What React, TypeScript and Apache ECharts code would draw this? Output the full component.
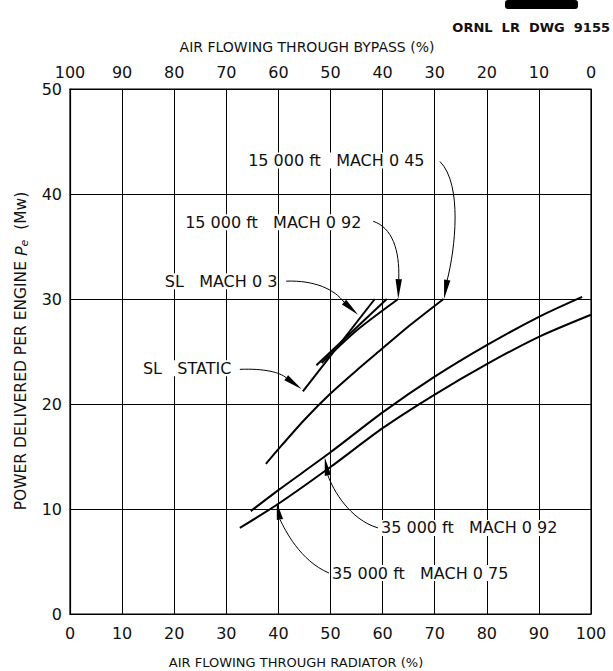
import React, { useEffect, useRef } from "react";
import * as echarts from "echarts";

// 35 000 ft MACH 0.92
const m092Alt35X = [34.7, 40, 50, 60, 70, 80, 90, 98.3];
const m092Alt35Y = [9.8, 11.8, 15.4, 19.2, 22.6, 25.6, 28.3, 30.2];

// 35 000 ft MACH 0.75
const m075Alt35X = [32.6, 40, 50, 60, 70, 80, 90, 100];
const m075Alt35Y = [8.2, 10.5, 14.0, 17.7, 20.9, 23.8, 26.4, 28.5];

// 15 000 ft MACH 0.45
const m045Alt15X = [37.6, 40, 45, 50, 55, 60, 65, 71.7];
const m045Alt15Y = [14.3, 15.7, 18.5, 21.0, 23.2, 25.3, 27.4, 30.0];

// 15 000 ft MACH 0.92
const m092Alt15X = [48.3, 55, 63.0];
const m092Alt15Y = [23.9, 27.0, 30.0];

// SL MACH 0.3
const slM03X = [47.3, 60.8];
const slM03Y = [23.7, 30.0];

// SL STATIC
const slStaticX = [44.7, 58.5];
const slStaticY = [21.2, 30.0];

const FONT = '"DejaVu Sans", "Liberation Sans", sans-serif';

type Ann = {
  label: string;
  at: number[];
  start: number[];
  cp1: number[];
  cp2: number[];
  end: number[];
  tip: number[];
};

const annotations: Ann[] = [
  {
    label: "15 000 ft   MACH 0 45",
    at: [34.2, 43.2],
    start: [71.0, 43.1],
    cp1: [75.4, 40.9],
    cp2: [73.9, 34.7],
    end: [72.4, 31.8],
    tip: [71.8, 30.0],
  },
  {
    label: "15 000 ft   MACH 0 92",
    at: [22.1, 37.3],
    start: [58.2, 37.4],
    cp1: [61.8, 36.8],
    cp2: [63.3, 34.7],
    end: [63.1, 31.9],
    tip: [63.0, 30.0],
  },
  {
    label: "SL   MACH 0 3",
    at: [18.2, 31.7],
    start: [41.5, 31.7],
    cp1: [47.0, 31.8],
    cp2: [50.8, 30.9],
    end: [52.6, 29.7],
    tip: [55.3, 28.5],
  },
  {
    label: "SL   STATIC",
    at: [14.0, 23.4],
    start: [32.6, 23.3],
    cp1: [37.4, 23.4],
    cp2: [40.3, 23.0],
    end: [41.5, 22.5],
    tip: [44.5, 21.4],
  },
  {
    label: "35 000 ft   MACH 0 92",
    at: [59.7, 8.2],
    start: [59.1, 8.2],
    cp1: [53.7, 9.0],
    cp2: [50.5, 11.8],
    end: [49.5, 13.2],
    tip: [48.9, 14.9],
  },
  {
    label: "35 000 ft   MACH 0 75",
    at: [50.3, 3.9],
    start: [49.7, 3.9],
    cp1: [44.1, 5.1],
    cp2: [41.3, 8.0],
    end: [40.3, 9.0],
    tip: [39.7, 10.6],
  },
];

const zip = (xs: number[], ys: number[]) => xs.map((x, i) => [x, ys[i]]);

function lineSeries(name: string, xs: number[], ys: number[], smooth: boolean) {
  return {
    name,
    type: "line",
    xAxisIndex: 0,
    yAxisIndex: 0,
    data: zip(xs, ys),
    showSymbol: false,
    symbol: "none",
    smooth: smooth ? 0.25 : false,
    lineStyle: { color: "#000", width: 2 },
    silent: true,
  };
}

export default function App() {
  const ref = useRef<HTMLDivElement>(null);
  useEffect(() => {
    if (!ref.current) return;
    const chart = echarts.init(ref.current, null, { renderer: "svg" });
    const axisLabel = { color: "#111", fontSize: 16, fontFamily: FONT };
    const option: any = {
      animation: false,
      backgroundColor: "#fff",
      grid: {
        left: 70,
        right: 22,
        top: 89,
        bottom: 57,
        show: true,
        borderColor: "#000",
        borderWidth: 1.2,
      },
      xAxis: [
        {
          type: "value",
          min: 0,
          max: 100,
          interval: 10,
          position: "bottom",
          axisLine: { show: true, lineStyle: { color: "#000", width: 1.2 } },
          axisTick: { show: false },
          splitLine: { show: true, lineStyle: { color: "#000", width: 1 } },
          axisLabel: { ...axisLabel, margin: 11 },
        },
        {
          type: "value",
          min: 0,
          max: 100,
          interval: 10,
          inverse: true,
          position: "top",
          axisLine: { show: true, lineStyle: { color: "#000", width: 1.2 } },
          axisTick: { show: false },
          splitLine: { show: false },
          axisLabel: { ...axisLabel, margin: 9 },
        },
      ],
      yAxis: [
        {
          type: "value",
          min: 0,
          max: 50,
          interval: 10,
          axisLine: { show: true, lineStyle: { color: "#000", width: 1.2 } },
          axisTick: { show: false },
          splitLine: { show: true, lineStyle: { color: "#000", width: 1 } },
          axisLabel: { ...axisLabel, margin: 8 },
        },
      ],
      series: [
        lineSeries("35 000 ft MACH 0.92", m092Alt35X, m092Alt35Y, true),
        lineSeries("35 000 ft MACH 0.75", m075Alt35X, m075Alt35Y, true),
        lineSeries("15 000 ft MACH 0.45", m045Alt15X, m045Alt15Y, true),
        lineSeries("15 000 ft MACH 0.92", m092Alt15X, m092Alt15Y, true),
        lineSeries("SL MACH 0.3", slM03X, slM03Y, false),
        lineSeries("SL STATIC", slStaticX, slStaticY, false),
      ],
    };
    chart.setOption(option);

    const toPx = (p: number[]) =>
      chart.convertToPixel({ xAxisIndex: 0, yAxisIndex: 0 }, p) as number[];

    const g: any[] = [];
    annotations.forEach((a) => {
      const t = toPx(a.at);
      g.push({
        type: "text",
        silent: true,
        style: {
          text: a.label,
          x: t[0],
          y: t[1],
          fill: "#111",
          fontSize: 16,
          fontFamily: FONT,
          align: "left",
          verticalAlign: "middle",
          backgroundColor: "#fff",
        },
      });
      const s = toPx(a.start);
      const c1 = toPx(a.cp1);
      const c2 = toPx(a.cp2);
      const e = toPx(a.end);
      const tip = toPx(a.tip);
      g.push({
        type: "bezierCurve",
        silent: true,
        shape: {
          x1: s[0], y1: s[1],
          cpx1: c1[0], cpy1: c1[1],
          cpx2: c2[0], cpy2: c2[1],
          x2: e[0], y2: e[1],
        },
        style: { stroke: "#000", lineWidth: 1, fill: "none" },
      });
      const dx = tip[0] - e[0];
      const dy = tip[1] - e[1];
      const len = Math.hypot(dx, dy) || 1;
      const nx = -dy / len;
      const ny = dx / len;
      const w = 3.2;
      g.push({
        type: "polygon",
        silent: true,
        shape: {
          points: [
            [tip[0], tip[1]],
            [e[0] + nx * w, e[1] + ny * w],
            [e[0] - nx * w, e[1] - ny * w],
          ],
        },
        style: { fill: "#000" },
      });
    });

    // Axis titles and drawing number
    g.push({
      type: "text",
      silent: true,
      style: {
        text: "AIR FLOWING THROUGH BYPASS (%)",
        x: 307,
        y: 47,
        fill: "#111",
        fontSize: 14,
        fontFamily: FONT,
        align: "center",
        verticalAlign: "middle",
      },
    });
    g.push({
      type: "text",
      silent: true,
      style: {
        text: "AIR FLOWING THROUGH RADIATOR (%)",
        x: 296,
        y: 662,
        fill: "#111",
        fontSize: 13,
        fontFamily: FONT,
        align: "center",
        verticalAlign: "middle",
      },
    });
    g.push({
      type: "text",
      silent: true,
      x: 21,
      y: 351,
      rotation: Math.PI / 2,
      style: {
        text: "{a|POWER DELIVERED PER ENGINE }{p|P}{s|e}{a|  (Mw)}",
        x: 0,
        y: 0,
        fill: "#111",
        align: "center",
        verticalAlign: "middle",
        rich: {
          a: { fontSize: 15.5, fontFamily: FONT, fill: "#111" },
          p: { fontSize: 16, fontFamily: FONT, fontStyle: "italic", fill: "#111" },
          s: { fontSize: 11, fontFamily: FONT, fontStyle: "italic", fill: "#111", padding: [7, 0, 0, 0] },
        },
      },
    });
    g.push({
      type: "text",
      silent: true,
      style: {
        text: "ORNL  LR  DWG  9155",
        x: 610,
        y: 27,
        fill: "#111",
        fontSize: 13,
        fontWeight: "bold",
        fontFamily: FONT,
        align: "right",
        verticalAlign: "middle",
      },
    });
    g.push({
      type: "rect",
      silent: true,
      shape: { x: 505, y: 0, width: 73, height: 9, r: 3 },
      style: { fill: "#000" },
    });

    chart.setOption({ graphic: g });
    return () => chart.dispose();
  }, []);
  return (
    <div
      ref={ref}
      style={{ position: "absolute", left: 0, top: 0, width: 613, height: 671, background: "#fff" }}
    />
  );
}
